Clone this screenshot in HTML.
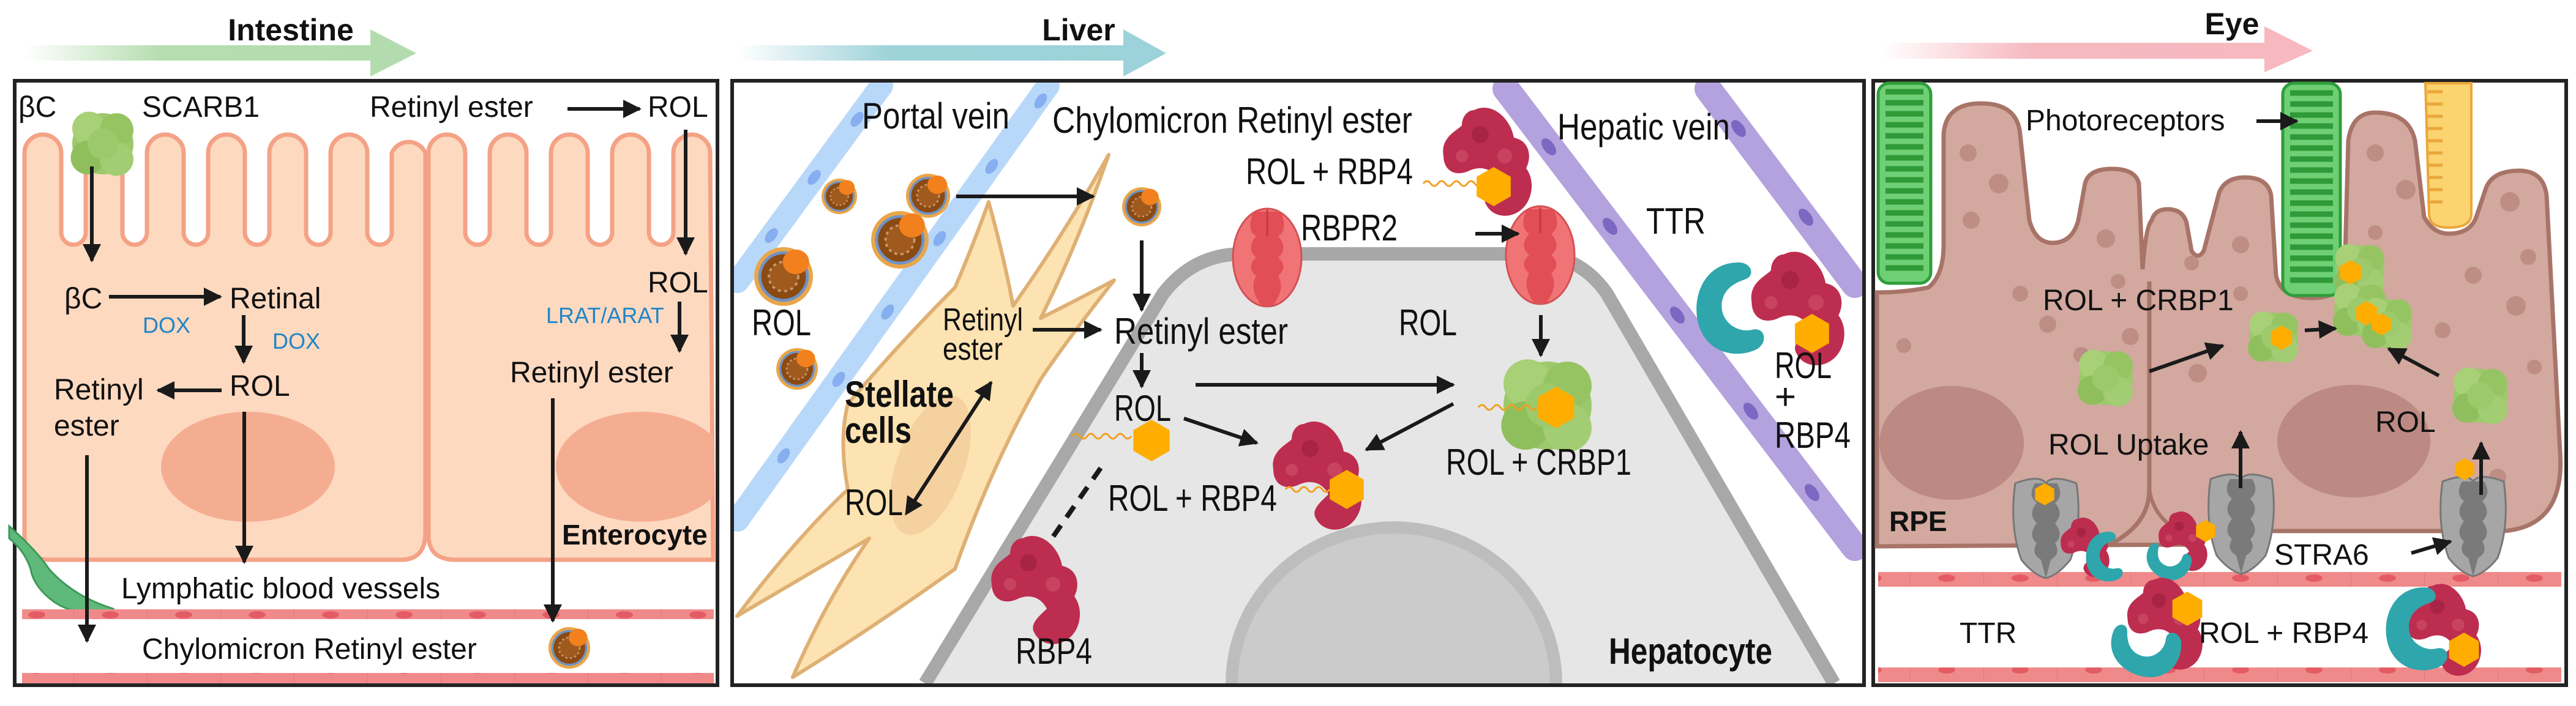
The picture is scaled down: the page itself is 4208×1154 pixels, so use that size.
<!DOCTYPE html>
<html><head><meta charset="utf-8"><style>
html,body{margin:0;padding:0;background:#fff;width:4208px;height:1154px;overflow:hidden}
svg{display:block}
text{font-family:"Liberation Sans",sans-serif;fill:#111}
</style></head><body>
<svg width="4208" height="1154" viewBox="0 0 4208 1154" xmlns="http://www.w3.org/2000/svg">
<defs>
<marker id="ah" viewBox="0 0 10 10" refX="9" refY="5" markerWidth="34" markerHeight="30" markerUnits="userSpaceOnUse" orient="auto"><path d="M0,0 L10,5 L0,10 z" fill="#1a1a1a"/></marker>
<marker id="ahs" viewBox="0 0 10 10" refX="1" refY="5" markerWidth="34" markerHeight="30" markerUnits="userSpaceOnUse" orient="auto-start-reverse"><path d="M0,0 L10,5 L0,10 z" fill="#1a1a1a"/></marker>
<linearGradient id="gI" x1="0" x2="1"><stop offset="0" stop-color="#b5ddb0" stop-opacity="0"/><stop offset="0.35" stop-color="#b5ddb0"/><stop offset="1" stop-color="#b2dcae"/></linearGradient>
<linearGradient id="gL" x1="0" x2="1"><stop offset="0" stop-color="#9fd3da" stop-opacity="0"/><stop offset="0.35" stop-color="#9fd3da"/><stop offset="1" stop-color="#9cd2d9"/></linearGradient>
<linearGradient id="gE" x1="0" x2="1"><stop offset="0" stop-color="#f6b5bd" stop-opacity="0"/><stop offset="0.35" stop-color="#f6b9c0"/><stop offset="1" stop-color="#f7b8bf"/></linearGradient>
<pattern id="band" width="120" height="30" patternUnits="userSpaceOnUse"><rect width="120" height="30" fill="#f08a8a"/><ellipse cx="60" cy="15" rx="14" ry="6" fill="#e35c64"/><line x1="0" y1="0" x2="0" y2="30" stroke="#e07a7a" stroke-width="2"/></pattern>
<g id="chylo"><circle r="1" fill="#e9a64a"/><circle r="0.86" fill="#6e93c8"/><circle r="0.76" fill="#8b4a12"/><circle r="0.5" fill="#a15a1e" stroke="#c59a6e" stroke-width="0.08" stroke-dasharray="0.1 0.12"/><ellipse cx="0.42" cy="-0.5" rx="0.45" ry="0.42" fill="#f2801d"/></g>
<g id="rbp"><path d="M-20,-85 C10,-100 40,-70 45,-40 C70,-35 75,-10 65,10 C80,30 75,60 60,75 C40,95 10,90 0,70 C-10,55 10,40 20,30 C10,10 -10,5 -30,15 C-55,25 -70,10 -70,-10 C-75,-40 -50,-50 -40,-60 C-40,-75 -30,-85 -20,-85z" fill="#bd2d4f"/><circle cx="-10" cy="-45" r="14" fill="#a82445"/><circle cx="30" cy="-10" r="12" fill="#c8435f"/><circle cx="-40" cy="-10" r="10" fill="#c8435f"/></g>
<g id="crbp"><circle cx="0" cy="0" r="1" fill="#9cc96b"/><circle cx="-0.45" cy="-0.5" r="0.55" fill="#a8d077"/><circle cx="0.45" cy="-0.45" r="0.55" fill="#97c463"/><circle cx="-0.5" cy="0.45" r="0.55" fill="#8fbf5c"/><circle cx="0.45" cy="0.5" r="0.55" fill="#a3cd72"/><circle cx="0" cy="0" r="0.5" fill="#9cc96b"/></g>
<polygon id="hex" points="0,-1 0.87,-0.5 0.87,0.5 0,1 -0.87,0.5 -0.87,-0.5" fill="#ffad00"/>
<g id="stra"><path d="M-50,-70 Q-10,-85 0,-70 Q10,-85 50,-70 Q60,0 40,55 Q20,80 0,85 Q-20,80 -40,55 Q-60,0 -50,-70z" fill="#a6a6a6" stroke="#777" stroke-width="3"/><path d="M-18,-70 Q-30,-50 -15,-38 Q-30,-20 -15,-5 Q-30,15 -15,28 Q-25,45 -8,55 L0,85 L8,55 Q25,45 15,28 Q30,15 15,-5 Q30,-20 15,-38 Q30,-50 18,-70z" fill="#7a7a7a"/></g>
<g id="rbpr"><ellipse cx="0" cy="0" rx="56" ry="80" fill="#f07475" stroke="#d45055" stroke-width="3"/><path d="M-22,-75 Q-35,-45 -18,-35 Q-35,-15 -18,0 Q-35,15 -18,30 Q-30,50 -10,78 L10,78 Q30,50 18,30 Q35,15 18,0 Q35,-15 18,-35 Q35,-45 22,-75z" fill="#e24e55"/><line x1="0" y1="-78" x2="0" y2="-35" stroke="#c03a40" stroke-width="3"/></g>
<path id="ttr" d="M0,-60 C-50,-60 -70,-10 -60,30 C-50,70 -10,85 25,70 C45,60 40,35 20,40 C0,45 -25,30 -25,5 C-25,-20 -5,-30 10,-35 C25,-40 20,-60 0,-60z" fill="#2fa6ab"/>
<clipPath id="cI2"><rect x="700" y="380" width="465" height="535"/></clipPath>
<clipPath id="cL"><rect x="1199" y="135" width="1843" height="982"/></clipPath>
</defs>

<!-- ================= INTESTINE ================= -->
<path d="M40,74 L605,74 L605,48 L680,87 L605,125 L605,99 L40,99z" fill="url(#gI)"/>
<text x="475" y="66" font-size="50" font-weight="bold" text-anchor="middle">Intestine</text>
<rect x="24" y="132" width="1148" height="988" fill="#fff" stroke="#222" stroke-width="6"/>
<path d="M40,890 L40,250 a30,30 0 0 1 60,0 l0,130 a20,20 0 0 0 40,0 l0,-130 a30,30 0 0 1 60,0 l0,130 a20,20 0 0 0 40,0 l0,-130 a30,30 0 0 1 60,0 l0,130 a20,20 0 0 0 40,0 l0,-130 a30,30 0 0 1 60,0 l0,130 a20,20 0 0 0 40,0 l0,-130 a30,30 0 0 1 60,0 l0,130 a20,20 0 0 0 40,0 l0,-130 a30,30 0 0 1 60,0 l0,130 a20,20 0 0 0 40,0 l0,-130 a30,30 0 0 1 55,0 L695,870 Q695,915 655,915 L80,915 Q40,915 40,875z" fill="#fdd9c0" stroke="#f4a286" stroke-width="7"/>
<path d="M700,875 L700,250 a30,30 0 0 1 60,0 l0,130 a20,20 0 0 0 40,0 l0,-130 a30,30 0 0 1 60,0 l0,130 a20,20 0 0 0 40,0 l0,-130 a30,30 0 0 1 60,0 l0,130 a20,20 0 0 0 40,0 l0,-130 a30,30 0 0 1 60,0 l0,130 a20,20 0 0 0 40,0 l0,-130 a30,30 0 0 1 60,0 L1165,915 L745,915 Q700,915 700,875z" fill="#fdd9c0" stroke="#f4a286" stroke-width="7"/>
<ellipse cx="405" cy="763" rx="142" ry="90" fill="#f5ad92"/>
<ellipse cx="1048" cy="763" rx="140" ry="90" fill="#f5ad92" clip-path="url(#cI2)"/>
<path d="M15,860 Q60,900 80,930 Q120,975 185,995 L190,1003 Q130,1010 90,985 Q55,960 50,930 Q40,900 15,880z" fill="#5fb97a" stroke="#3e9a5a" stroke-width="3"/>
<rect x="36" y="996" width="1130" height="16" fill="url(#band)"/>
<rect x="36" y="1100" width="1130" height="17" fill="url(#band)"/>
<g transform="translate(168,235) scale(50)"><use href="#crbp"/></g>
<use href="#chylo" transform="translate(930,1059) scale(34)"/>
<g font-size="48">
<text x="30" y="191">βC</text>
<text x="232" y="191">SCARB1</text>
<text x="604" y="191">Retinyl ester</text>
<text x="1058" y="191">ROL</text>
<text x="105" y="504">βC</text>
<text x="375" y="504">Retinal</text>
<text x="375" y="647">ROL</text>
<text x="88" y="653">Retinyl</text>
<text x="88" y="712">ester</text>
<text x="1058" y="478">ROL</text>
<text x="833" y="625">Retinyl ester</text>
<text x="198" y="978">Lymphatic blood vessels</text>
<text x="232" y="1077">Chylomicron Retinyl ester</text>
</g>
<text x="918" y="890" font-size="46" font-weight="bold">Enterocyte</text>
<g font-size="36">
<text x="233" y="544" style="fill:#1f86c8">DOX</text>
<text x="445" y="570" style="fill:#1f86c8">DOX</text>
<text x="892" y="528" style="fill:#1f86c8">LRAT/ARAT</text>
</g>
<g stroke="#1a1a1a" stroke-width="6" fill="none" marker-end="url(#ah)">
<line x1="927" y1="178" x2="1045" y2="178"/>
<line x1="1120" y1="212" x2="1120" y2="415"/>
<line x1="150" y1="272" x2="150" y2="426"/>
<line x1="178" y1="485" x2="360" y2="485"/>
<line x1="398" y1="515" x2="398" y2="592"/>
<line x1="362" y1="638" x2="258" y2="638"/>
<line x1="399" y1="673" x2="399" y2="919"/>
<line x1="142" y1="744" x2="142" y2="1048"/>
<line x1="1110" y1="493" x2="1110" y2="574"/>
<line x1="903" y1="651" x2="903" y2="1015"/>
</g>

<!-- ================= LIVER ================= -->
<path d="M1204,74 L1835,74 L1835,48 L1905,87 L1835,125 L1835,99 L1204,99z" fill="url(#gL)"/>
<text x="1762" y="66" font-size="50" font-weight="bold" text-anchor="middle">Liver</text>
<rect x="1196" y="132" width="1849" height="988" fill="#fff" stroke="#222" stroke-width="6"/>
<g clip-path="url(#cL)">
<path d="M1511,1117 L1900,480 Q1950,415 2030,415 L2500,415 Q2580,415 2625,480 L2996,1117z" fill="#e6e6e6"/>
<path d="M1511,1117 L1900,480 Q1950,415 2030,415 L2500,415 Q2580,415 2625,480 L2996,1117" fill="none" stroke="#a8a8a8" stroke-width="22"/>
<path d="M2002,1117 A275,265 0 0 1 2552,1117z" fill="#bdbdbd"/>
<path d="M2022,1117 A255,245 0 0 1 2532,1117z" fill="#cbcbcb"/>
<line x1="1440" y1="140" x2="1205" y2="460" stroke="#b8d8fa" stroke-width="38" stroke-linecap="round"/>
<line x1="1712" y1="140" x2="1205" y2="850" stroke="#b8d8fa" stroke-width="38" stroke-linecap="round"/>
<g fill="#86aef0"><ellipse cx="1400" cy="195" rx="8" ry="14" transform="rotate(38 1400 195)"/><ellipse cx="1330" cy="290" rx="8" ry="14" transform="rotate(38 1330 290)"/><ellipse cx="1260" cy="385" rx="8" ry="14" transform="rotate(38 1260 385)"/><ellipse cx="1700" cy="165" rx="8" ry="14" transform="rotate(35 1700 165)"/><ellipse cx="1620" cy="272" rx="8" ry="14" transform="rotate(35 1620 272)"/><ellipse cx="1535" cy="390" rx="8" ry="14" transform="rotate(35 1535 390)"/><ellipse cx="1450" cy="510" rx="8" ry="14" transform="rotate(35 1450 510)"/><ellipse cx="1370" cy="620" rx="8" ry="14" transform="rotate(35 1370 620)"/><ellipse cx="1280" cy="745" rx="8" ry="14" transform="rotate(35 1280 745)"/></g>
<line x1="2460" y1="145" x2="3030" y2="895" stroke="#b3a2de" stroke-width="44" stroke-linecap="round"/>
<line x1="2790" y1="145" x2="3030" y2="465" stroke="#b3a2de" stroke-width="44" stroke-linecap="round"/>
<g fill="#7d67c2"><ellipse cx="2530" cy="240" rx="9" ry="16" transform="rotate(-37 2530 240)"/><ellipse cx="2630" cy="370" rx="9" ry="16" transform="rotate(-37 2630 370)"/><ellipse cx="2740" cy="515" rx="9" ry="16" transform="rotate(-37 2740 515)"/><ellipse cx="2860" cy="672" rx="9" ry="16" transform="rotate(-37 2860 672)"/><ellipse cx="2960" cy="805" rx="9" ry="16" transform="rotate(-37 2960 805)"/><ellipse cx="2840" cy="210" rx="9" ry="16" transform="rotate(-37 2840 210)"/><ellipse cx="2950" cy="355" rx="9" ry="16" transform="rotate(-37 2950 355)"/></g>
<path d="M1811,253 Q1760,400 1700,520 Q1760,490 1820,458 Q1740,560 1700,620 Q1620,760 1560,930 Q1420,1030 1295,1107 Q1350,980 1420,880 Q1300,950 1204,1007 Q1300,880 1385,800 Q1370,720 1385,660 Q1470,560 1560,470 Q1590,400 1615,330 Q1640,420 1655,500 Q1740,380 1811,253z" fill="#fde3b2" stroke="#dfb074" stroke-width="6" stroke-linejoin="round"/>
<ellipse cx="1520" cy="760" rx="55" ry="120" fill="#f6d1a0" transform="rotate(20 1520 760)"/>
<use href="#chylo" transform="translate(1371,321) scale(29)"/>
<use href="#chylo" transform="translate(1516,320) scale(36)"/>
<use href="#chylo" transform="translate(1470,392) scale(47)"/>
<use href="#chylo" transform="translate(1280,452) scale(48)"/>
<use href="#chylo" transform="translate(1302,603) scale(34)"/>
<use href="#chylo" transform="translate(1865,338) scale(32)"/>
<use href="#rbpr" transform="translate(2070,421)"/>
<use href="#rbpr" transform="translate(2516,417)"/>
<use href="#rbp" transform="translate(2428,265)"/>
<path d="M2325,300 q6,-8 12,0 q6,8 12,0 q6,-8 12,0 q6,8 12,0 q6,-8 12,0 q6,8 12,0 q6,-8 12,0 q6,8 12,0" stroke="#f0a020" stroke-width="3" fill="none"/>
<use href="#hex" transform="translate(2440,305) scale(32)"/>
<use href="#rbp" transform="translate(2150,778)"/>
<path d="M2100,800 q6,-8 12,0 q6,8 12,0 q6,-8 12,0 q6,8 12,0 q6,-8 12,0 q6,8 12,0" stroke="#f0a020" stroke-width="3" fill="none"/>
<use href="#hex" transform="translate(2200,800) scale(32)"/>
<use href="#rbp" transform="translate(1690,965)"/>
<use href="#crbp" transform="translate(2528,663) scale(72)"/>
<path d="M2415,666 q6,-8 12,0 q6,8 12,0 q6,-8 12,0 q6,8 12,0 q6,-8 12,0 q6,8 12,0 q6,-8 12,0 q6,8 12,0" stroke="#f0a020" stroke-width="3" fill="none"/>
<use href="#hex" transform="translate(2542,666) scale(34)"/>
<path d="M1752,713 q6,-8 12,0 q6,8 12,0 q6,-8 12,0 q6,8 12,0 q6,-8 12,0 q6,8 12,0 q6,-8 12,0 q6,8 12,0" stroke="#f0a020" stroke-width="3" fill="none"/>
<use href="#hex" transform="translate(1881,720) scale(34)"/>
<use href="#ttr" transform="translate(2840,495) scale(1.1)"/>
<use href="#rbp" transform="translate(2935,505) scale(1.05)"/>
<use href="#hex" transform="translate(2960,545) scale(32)"/>
</g>
<g font-size="60">
<text x="1408" y="210" textLength="241" lengthAdjust="spacingAndGlyphs">Portal vein</text>
<text x="1719" y="217" textLength="588" lengthAdjust="spacingAndGlyphs">Chylomicron Retinyl ester</text>
<text x="2035" y="301" textLength="273" lengthAdjust="spacingAndGlyphs">ROL + RBP4</text>
<text x="2125" y="393" textLength="158" lengthAdjust="spacingAndGlyphs">RBPR2</text>
<text x="2544" y="228" textLength="282" lengthAdjust="spacingAndGlyphs">Hepatic vein</text>
<text x="2689" y="382" textLength="97" lengthAdjust="spacingAndGlyphs">TTR</text>
<text x="1228" y="548" textLength="97" lengthAdjust="spacingAndGlyphs">ROL</text>
<text x="1380" y="842" textLength="95" lengthAdjust="spacingAndGlyphs">ROL</text>
<text x="1820" y="562" textLength="284" lengthAdjust="spacingAndGlyphs">Retinyl ester</text>
<text x="2285" y="548" textLength="95" lengthAdjust="spacingAndGlyphs">ROL</text>
<text x="1820" y="688" textLength="93" lengthAdjust="spacingAndGlyphs">ROL</text>
<text x="1810" y="835" textLength="276" lengthAdjust="spacingAndGlyphs">ROL + RBP4</text>
<text x="2362" y="776" textLength="303" lengthAdjust="spacingAndGlyphs">ROL + CRBP1</text>
<text x="1659" y="1085" textLength="125" lengthAdjust="spacingAndGlyphs">RBP4</text>
<text x="2899" y="618" textLength="93" lengthAdjust="spacingAndGlyphs">ROL</text>
<text x="2899" y="669">+</text>
<text x="2899" y="732" textLength="124" lengthAdjust="spacingAndGlyphs">RBP4</text>
</g>
<g font-size="52">
<text x="1540" y="540" textLength="131" lengthAdjust="spacingAndGlyphs">Retinyl</text>
<text x="1540" y="588" textLength="98" lengthAdjust="spacingAndGlyphs">ester</text>
</g>
<g font-size="60" font-weight="bold">
<text x="1380" y="665" textLength="178" lengthAdjust="spacingAndGlyphs">Stellate</text>
<text x="1380" y="724" textLength="109" lengthAdjust="spacingAndGlyphs">cells</text>
<text x="2628" y="1085" textLength="267" lengthAdjust="spacingAndGlyphs">Hepatocyte</text>
</g>
<g stroke="#1a1a1a" stroke-width="6" fill="none" marker-end="url(#ah)">
<line x1="1562" y1="321" x2="1786" y2="321"/>
<line x1="1865" y1="393" x2="1865" y2="507"/>
<line x1="1687" y1="539" x2="1798" y2="539"/>
<line x1="1865" y1="577" x2="1865" y2="632"/>
<line x1="1953" y1="629" x2="2374" y2="629"/>
<line x1="1934" y1="684" x2="2053" y2="724"/>
<line x1="2374" y1="660" x2="2232" y2="735"/>
<line x1="2517" y1="515" x2="2517" y2="581"/>
<line x1="2410" y1="382" x2="2480" y2="382"/>
<line x1="1493" y1="820" x2="1619" y2="625" marker-start="url(#ahs)"/>
</g>
<line x1="1798" y1="765" x2="1719" y2="879" stroke="#1a1a1a" stroke-width="8" stroke-dasharray="22 16"/>

<!-- ================= EYE ================= -->
<path d="M3075,70 L3699,70 L3699,43 L3778,83 L3699,118 L3699,96 L3075,96z" fill="url(#gE)"/>
<text x="3646" y="56" font-size="50" font-weight="bold" text-anchor="middle">Eye</text>
<rect x="3060" y="132" width="1132" height="988" fill="#fff" stroke="#222" stroke-width="6"/>
<path d="M3066,478 Q3110,478 3150,470 Q3175,450 3175,400 L3175,220 Q3178,169 3236,169 Q3296,169 3300,220 L3315,360 Q3325,397 3353,397 Q3385,397 3395,360 L3406,300 Q3412,276 3450,276 Q3488,276 3494,300 L3500,440 Q3505,370 3515,360 Q3520,342 3541,342 Q3566,342 3572,365 L3580,410 Q3590,426 3600,410 L3625,315 Q3635,290 3667,290 Q3705,290 3710,320 L3718,450 Q3725,487 3776,487 Q3826,487 3830,450 L3836,230 Q3842,184 3880,184 Q3935,184 3945,230 L3960,355 Q3975,382 4000,382 Q4035,382 4045,355 L4060,310 Q4070,279 4115,279 Q4155,279 4160,320 L4182,740 Q4190,860 4090,868 L3660,868 Q3600,868 3590,890 L3066,893z" fill="#d2a89f" stroke="#a87468" stroke-width="7"/>
<path d="M3511,460 L3511,800 Q3511,860 3440,893" fill="none" stroke="#a87468" stroke-width="7"/>
<path d="M3511,800 Q3520,860 3590,880" fill="none" stroke="#a87468" stroke-width="6"/>
<ellipse cx="3188" cy="724" rx="118" ry="93" fill="#bc8a82"/>
<ellipse cx="3845" cy="721" rx="125" ry="92" fill="#bc8a82"/>
<g fill="#be8e85"><circle cx="3215" cy="250" r="14"/><circle cx="3265" cy="300" r="16"/><circle cx="3220" cy="360" r="14"/><circle cx="3300" cy="480" r="13"/><circle cx="3440" cy="390" r="15"/><circle cx="3460" cy="460" r="12"/><circle cx="3345" cy="530" r="14"/><circle cx="3110" cy="565" r="12"/><circle cx="3580" cy="430" r="12"/><circle cx="3660" cy="400" r="14"/><circle cx="3590" cy="610" r="15"/><circle cx="3660" cy="480" r="12"/><circle cx="3880" cy="250" r="14"/><circle cx="3930" cy="310" r="16"/><circle cx="3880" cy="380" r="12"/><circle cx="4100" cy="330" r="16"/><circle cx="4130" cy="420" r="13"/><circle cx="4040" cy="450" r="14"/><circle cx="4110" cy="500" r="16"/><circle cx="4140" cy="600" r="12"/><circle cx="3990" cy="540" r="13"/><circle cx="3480" cy="550" r="14"/><circle cx="3400" cy="580" r="13"/><circle cx="4080" cy="780" r="14"/></g>
<rect x="3068" y="136" width="86" height="327" rx="18" fill="#6fcf74" stroke="#2f9e3a" stroke-width="5"/>
<rect x="3729" y="136" width="94" height="347" rx="18" fill="#6fcf74" stroke="#2f9e3a" stroke-width="5"/>
<g stroke="#2e9a38" stroke-width="9">
<path d="M3080,150H3142M3080,168H3142M3080,186H3142M3080,204H3142M3080,222H3142M3080,240H3142M3080,258H3142M3080,276H3142M3080,294H3142M3080,312H3142M3080,330H3142M3080,348H3142M3080,366H3142M3080,384H3142M3080,402H3142M3080,420H3142M3080,438H3142"/>
<path d="M3741,152H3811M3741,170H3811M3741,188H3811M3741,206H3811M3741,224H3811M3741,242H3811M3741,260H3811M3741,278H3811M3741,296H3811M3741,314H3811M3741,332H3811M3741,350H3811M3741,368H3811M3741,386H3811M3741,404H3811M3741,422H3811M3741,440H3811M3741,458H3811"/>
</g>
<path d="M3962,136 L4037,136 L4037,350 Q4037,372 4000,372 Q3968,372 3968,350z" fill="#fbd36f" stroke="#eaa73a" stroke-width="4"/>
<path d="M3990,150 h-25 M3990,170 h-25 M3990,190 h-25 M3990,210 h-25 M3990,230 h-25 M3990,250 h-25 M3990,270 h-25 M3990,290 h-25 M3990,310 h-25 M3990,330 h-25" stroke="#eaa73a" stroke-width="5"/>
<rect x="3068" y="935" width="1116" height="24" fill="url(#band)"/>
<rect x="3068" y="1091" width="1116" height="24" fill="url(#band)"/>
<use href="#crbp" transform="translate(3440,618) scale(44)"/>
<use href="#crbp" transform="translate(3714,551) scale(40)"/>
<use href="#crbp" transform="translate(3855,441) scale(40)"/>
<use href="#crbp" transform="translate(3855,507) scale(42)"/>
<use href="#crbp" transform="translate(3900,529) scale(40)"/>
<use href="#crbp" transform="translate(4052,647) scale(44)"/>
<use href="#hex" transform="translate(3727,552) scale(20)"/>
<use href="#hex" transform="translate(3840,445) scale(20)"/>
<use href="#hex" transform="translate(3866,512) scale(20)"/>
<use href="#hex" transform="translate(3890,530) scale(18)"/>
<use href="#stra" transform="translate(3342,860)"/>
<use href="#stra" transform="translate(3661,853)"/>
<use href="#stra" transform="translate(4040,857)"/>
<use href="#hex" transform="translate(3340,808) scale(18)"/>
<use href="#hex" transform="translate(4026,767) scale(18)"/>
<use href="#rbp" transform="translate(3405,895) scale(0.55)"/>
<use href="#ttr" transform="translate(3445,905) scale(0.6)"/>
<use href="#rbp" transform="translate(3565,885) scale(0.55)"/>
<use href="#ttr" transform="translate(3540,910) scale(0.55) rotate(-60)"/>
<use href="#hex" transform="translate(3603,868) scale(18)"/>
<use href="#rbp" transform="translate(3535,1020) scale(0.85)"/>
<use href="#ttr" transform="translate(3500,1050) scale(0.85) rotate(-70)"/>
<use href="#hex" transform="translate(3573,995) scale(28)"/>
<use href="#rbp" transform="translate(3990,1030) scale(0.85)"/>
<use href="#ttr" transform="translate(3960,1020) scale(1)"/>
<use href="#hex" transform="translate(4025,1062) scale(28)"/>
<g font-size="48">
<text x="3309" y="213">Photoreceptors</text>
<text x="3337" y="507">ROL + CRBP1</text>
<text x="3346" y="743">ROL Uptake</text>
<text x="3880" y="706">ROL</text>
<text x="3715" y="923">STRA6</text>
<text x="3201" y="1051">TTR</text>
<text x="3592" y="1051">ROL + RBP4</text>
</g>
<text x="3086" y="868" font-size="46" font-weight="bold">RPE</text>
<g stroke="#1a1a1a" stroke-width="6" fill="none" marker-end="url(#ah)">
<line x1="3686" y1="198" x2="3752" y2="198"/>
<line x1="3511" y1="607" x2="3631" y2="565"/>
<line x1="3765" y1="540" x2="3815" y2="537"/>
<line x1="3984" y1="614" x2="3902" y2="570"/>
<line x1="3660" y1="798" x2="3660" y2="706"/>
<line x1="4053" y1="809" x2="4053" y2="724"/>
<line x1="3939" y1="904" x2="4003" y2="885"/>
</g>
</svg>
</body></html>
